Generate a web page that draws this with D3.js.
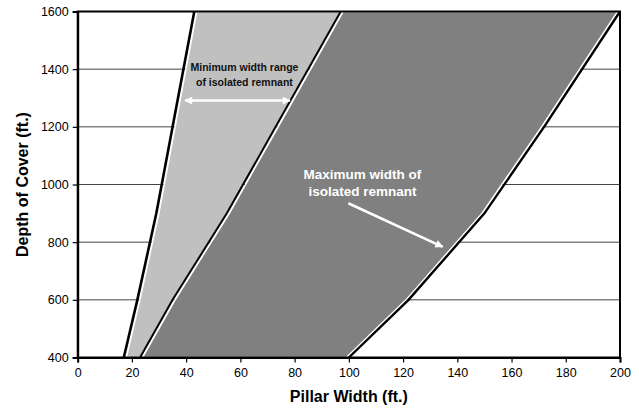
<!DOCTYPE html>
<html><head><meta charset="utf-8">
<script src="https://cdn.jsdelivr.net/npm/d3@7"></script>
<style>
html,body{margin:0;padding:0;background:#fff;}
svg{display:block;font-family:"Liberation Sans",Arial,sans-serif;}
</style></head>
<body><svg id="chart" width="639" height="412"></svg>
<script>
// ---- data ----
const depth = [400, 600, 900, 1200, 1600];              // depth of cover (ft.)
const leftLine   = [17, 22, 29, 35, 43];                // lower bound of minimum width range
const middleLine = [23, 35, 55, 73, 97];                // upper bound of minimum width range
const rightLine  = [100, 122, 150, 172, 200];           // maximum width of isolated remnant
const xTicks = [0, 20, 40, 60, 80, 100, 120, 140, 160, 180, 200];
const yTicks = [400, 600, 800, 1000, 1200, 1400, 1600];
const minLabel = ["Minimum width range", "of isolated remnant"];
const maxLabel = ["Maximum width of", "isolated remnant"];
const minArrow = {y: 1291, x1: 39.6, x2: 78.3};
const maxArrow = {x1: 99.8, y1: 935, x2: 134.6, y2: 784};

const svg = d3.select("#chart");
const m = {l: 77.7, r: 620, t: 11.5, b: 357.5};
const x = d3.scaleLinear().domain([0, 200]).range([m.l, m.r]);
const y = d3.scaleLinear().domain([400, 1600]).range([m.b, m.t]);

// gridlines
svg.append("g").selectAll("line").data(yTicks.slice(1, -1)).join("line")
  .attr("x1", m.l).attr("x2", m.r).attr("y1", d => y(d)).attr("y2", d => y(d))
  .attr("stroke", "#444").attr("stroke-width", 1);

const pts = (arr, off) => depth.map((d, i) => [x(arr[i]) + off, y(d)]);
const poly = (a, b) => a.concat(b.slice().reverse());

const g = svg.append("g");
const off = 2.6;
// light gray region
g.append("path")
  .attr("d", d3.line()(poly(pts(leftLine, off), pts(middleLine, 0))) + "Z")
  .attr("fill", "#c0c0c0").attr("stroke", "#fff").attr("stroke-width", 1.3);
// dark gray region
g.append("path")
  .attr("d", d3.line()(poly(pts(middleLine, off), pts(rightLine, -off))) + "Z")
  .attr("fill", "#808080").attr("stroke", "#fff").attr("stroke-width", 1.3);

// black boundary lines
const lineGen = d3.line();
g.append("path").attr("d", lineGen(pts(leftLine, 0))).attr("fill", "none")
  .attr("stroke", "#000").attr("stroke-width", 2.6);
g.append("path").attr("d", lineGen(pts(middleLine, 0))).attr("fill", "none")
  .attr("stroke", "#000").attr("stroke-width", 2);
g.append("path").attr("d", lineGen(pts(rightLine, 0))).attr("fill", "none")
  .attr("stroke", "#000").attr("stroke-width", 2.4);

// frame
svg.append("rect").attr("x", m.l).attr("y", m.t).attr("width", m.r - m.l).attr("height", m.b - m.t)
  .attr("fill", "none").attr("stroke", "#000").attr("stroke-width", 2);

// axes
const xAxis = svg.append("g").attr("transform", `translate(0,${m.b})`)
  .call(d3.axisBottom(x).tickValues(xTicks).tickFormat(d3.format("d")).tickSize(5).tickPadding(6));
const yAxis = svg.append("g").attr("transform", `translate(${m.l},0)`)
  .call(d3.axisLeft(y).tickValues(yTicks).tickFormat(d3.format("d")).tickSize(5).tickPadding(4));
[xAxis, yAxis].forEach(a => {
  a.select(".domain").attr("stroke", "#000").attr("stroke-width", 2);
  a.selectAll(".tick line").attr("stroke", "#000").attr("stroke-width", 1.2);
  a.selectAll(".tick text").attr("fill", "#000").style("font-size", "12.5px")
    .style("font-family", "'Liberation Sans',Arial,sans-serif");
});

// axis titles
svg.append("text").attr("x", (m.l + m.r) / 2).attr("y", 402).attr("text-anchor", "middle")
  .style("font-size", "16px").style("font-weight", "bold").text("Pillar Width (ft.)");
svg.append("text").attr("transform", `translate(28,${(m.t + m.b) / 2}) rotate(-90)`)
  .attr("text-anchor", "middle")
  .style("font-size", "16px").style("font-weight", "bold").text("Depth of Cover (ft.)");

// annotations
svg.append("text").attr("text-anchor", "middle").style("font-size", "10.5px").style("font-weight", "bold")
  .attr("fill", "#111")
  .selectAll("tspan").data(minLabel).join("tspan")
  .attr("x", x(61.5)).attr("y", (d, i) => y(1395) + i * 15.5).text(d => d);
svg.append("text").attr("text-anchor", "middle").style("font-size", "13.5px").style("font-weight", "bold")
  .attr("fill", "#fff")
  .selectAll("tspan").data(maxLabel).join("tspan")
  .attr("x", x(105)).attr("y", (d, i) => y(1018) + i * 17).text(d => d);

const defs = svg.append("defs");
defs.append("marker").attr("id", "ah").attr("viewBox", "0 0 10 10").attr("refX", 9).attr("refY", 5)
  .attr("markerWidth", 4).attr("markerHeight", 3.2).attr("orient", "auto-start-reverse")
  .attr("markerUnits", "strokeWidth")
  .append("path").attr("d", "M0,0L10,5L0,10Z").attr("fill", "#fff");

svg.append("line").attr("x1", x(minArrow.x1)).attr("x2", x(minArrow.x2))
  .attr("y1", y(minArrow.y)).attr("y2", y(minArrow.y))
  .attr("stroke", "#fff").attr("stroke-width", 2.5)
  .attr("marker-start", "url(#ah)").attr("marker-end", "url(#ah)");
svg.append("line").attr("x1", x(maxArrow.x1)).attr("x2", x(maxArrow.x2))
  .attr("y1", y(maxArrow.y1)).attr("y2", y(maxArrow.y2))
  .attr("stroke", "#fff").attr("stroke-width", 2.5)
  .attr("marker-end", "url(#ah)");
</script></body></html>
